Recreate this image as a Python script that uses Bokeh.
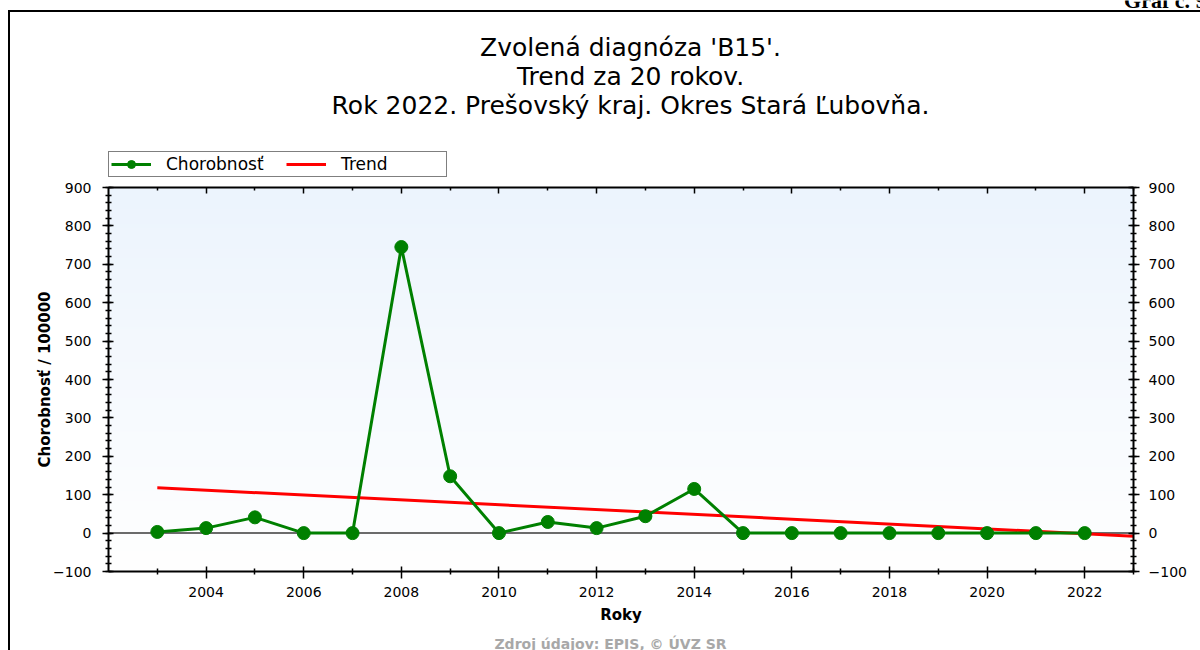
import numpy as np
from bokeh.plotting import figure
from bokeh.models import (LinearAxis, FixedTicker, Label, Legend, LegendItem, Range1d)
from bokeh.embed import file_html
from bokeh.resources import INLINE

# ---------------- data ----------------
years = [2003, 2004, 2005, 2006, 2007, 2008, 2009, 2010, 2011, 2012,
         2013, 2014, 2015, 2016, 2017, 2018, 2019, 2020, 2021, 2022]
morbidity = [3, 13, 41, 0, 0, 745, 148, 0, 29, 13,
             44, 115, 0, 0, 0, 0, 0, 0, 0, 0]
trend_years = [2003, 2023]
trend_values = [118, -8]

x_bounds = [2002, 2023]
y_bounds = [-100, 900]
x_major_ticks = [2004, 2006, 2008, 2010, 2012, 2014, 2016, 2018, 2020, 2022]
x_minor_ticks = [2003, 2005, 2007, 2009, 2011, 2013, 2015, 2017, 2019, 2021, 2023]
y_major_ticks = [-100, 0, 100, 200, 300, 400, 500, 600, 700, 800, 900]
y_minor_ticks = list(range(-100, 901, 20))

title_lines = ["Zvolená diagnóza 'B15'.",
               "Trend za 20 rokov.",
               "Rok 2022. Prešovský kraj. Okres Stará Ľubovňa."]
corner_text = "Graf č. 9"
source_text = "Zdroj údajov: EPIS, © ÚVZ SR"
series_label = "Chorobnosť"
trend_label = "Trend"
x_label = "Roky"
y_label = "Chorobnosť / 100000"

FONT = "DejaVu Sans"

# ---------------- layout (pixels of the page) ----------------
W, H = 1200, 650
PX_L, PX_R, PX_T, PX_B = 108, 1133, 187, 571      # plotting area
X0, X1 = x_bounds
Y0, Y1 = y_bounds
kx = (PX_R - PX_L) / (X1 - X0)
ky = (PX_B - PX_T) / (Y1 - Y0)
x_range = Range1d(X0 - PX_L / kx, X1 + (W - PX_R) / kx)
y_range = Range1d(Y0 - (H - PX_B) / ky, Y1 + PX_T / ky)

def sy(page_y):
    """page y (from top) -> screen units of the frame (from bottom)"""
    return H - page_y

p = figure(width=W, height=H, x_range=x_range, y_range=y_range,
           output_backend="svg", toolbar_location=None,
           min_border=0, x_axis_location=None, y_axis_location=None)
p.title.visible = False
p.background_fill_color = None
p.border_fill_color = None
p.outline_line_color = None
p.xgrid.visible = False
p.ygrid.visible = False
# left and top line of the surrounding box
p.styles = {"box-shadow": "inset 8px 10px 0 0 #ffffff, inset 10px 12px 0 0 #000000"}

# gradient background of the plotting area
n = 256
img = np.zeros((n, 1), dtype=np.uint32)
view = img.view(dtype=np.uint8).reshape((n, 1, 4))
top_c = np.array([236, 244, 253])
bot_c = np.array([255, 255, 255])
for i in range(n):
    t = i / (n - 1)
    c = bot_c + (top_c - bot_c) * t
    view[i, 0, 0] = int(c[0])
    view[i, 0, 1] = int(c[1])
    view[i, 0, 2] = int(c[2])
    view[i, 0, 3] = 255
bg = p.image_rgba(image=[img], x=X0, y=Y0, dw=X1 - X0, dh=Y1 - Y0)
bg.level = "image"

# zero line across the plotting area
p.line(x_bounds, [0, 0], line_color="#3a3a3a", line_width=1.5)

# series
trend_r = p.line(trend_years, trend_values, line_color="#ff0000", line_width=3)
line_r = p.line(years, morbidity, line_color="#008000", line_width=3)
pts_r = p.scatter(years, morbidity, marker="circle", size=13,
                  fill_color="#008000", line_color="#008000")

# axes
def style_axis(ax, tin, tout, mtin, mtout):
    ax.axis_line_color = "black"
    ax.axis_line_width = 2
    ax.major_tick_line_color = "black"
    ax.minor_tick_line_color = "black"
    ax.major_tick_line_width = 1.5
    ax.minor_tick_line_width = 1.5
    ax.major_tick_in = tin
    ax.major_tick_out = tout
    ax.minor_tick_in = mtin
    ax.minor_tick_out = mtout
    ax.major_label_text_font = FONT
    ax.major_label_text_font_size = "14px"
    ax.major_label_text_color = "black"
    ax.axis_label_text_font = FONT
    ax.axis_label_text_font_size = "15px"
    ax.axis_label_text_font_style = "bold"
    ax.axis_label_text_color = "black"

xt = FixedTicker(ticks=x_major_ticks, minor_ticks=x_minor_ticks)
yt = FixedTicker(ticks=y_major_ticks, minor_ticks=y_minor_ticks)

bottom = LinearAxis(ticker=xt, axis_label=x_label, fixed_location=Y0,
                    bounds=(X0, X1))
style_axis(bottom, 5, 7, 3, 3)
bottom.major_label_standoff = 8
bottom.axis_label_standoff = 6
p.add_layout(bottom, "below")

left = LinearAxis(ticker=yt, axis_label=y_label, fixed_location=X0,
                  bounds=(Y0, Y1))
style_axis(left, 5, 6, 3, 3)
left.major_label_standoff = 11
left.axis_label_standoff = -4
p.add_layout(left, "left")

right = LinearAxis(ticker=yt, fixed_location=X1, bounds=(Y0, Y1))
style_axis(right, 5, 6, 3, 3)
right.major_label_standoff = 9
p.add_layout(right, "right")

topax = LinearAxis(ticker=xt, fixed_location=Y1, bounds=(X0, X1))
style_axis(topax, 6, 0, 3, 0)
topax.major_label_overrides = {t: "" for t in x_major_ticks}
p.add_layout(topax, "above")

# legend (outside the plotting area, above it)
legend = Legend(items=[LegendItem(label=series_label, renderers=[line_r, pts_r]),
                       LegendItem(label=trend_label, renderers=[trend_r])],
                orientation="horizontal", location=(PX_L, sy(177)))
legend.margin = 0
legend.padding = 2
legend.spacing = 17
legend.glyph_width = 40
legend.glyph_height = 20
legend.label_height = 20
legend.label_width = 103
legend.label_standoff = 15
legend.label_text_font = FONT
legend.label_text_font_size = "17px"
legend.label_text_color = "black"
legend.border_line_color = "black"
legend.border_line_width = 1.2
legend.background_fill_color = "white"
legend.background_fill_alpha = 1
p.add_layout(legend, "center")

# titles (baselines corrected for the renderer's text offset)
for txt, base in zip(title_lines, [47, 76, 105]):
    p.add_layout(Label(x=630, y=sy(base), x_units="screen", y_units="screen",
                       text=txt, text_align="center", text_baseline="alphabetic",
                       text_font=FONT, text_font_size="25px", text_color="black"))

p.add_layout(Label(x=1206, y=sy(0), x_units="screen", y_units="screen",
                   text=corner_text, text_align="right", text_baseline="alphabetic",
                   text_font="Liberation Serif", text_font_size="22px",
                   text_font_style="bold", text_color="black"))

p.add_layout(Label(x=610, y=sy(643), x_units="screen", y_units="screen",
                   text=source_text, text_align="center", text_baseline="alphabetic",
                   text_font=FONT, text_font_size="14px", text_font_style="bold",
                   text_color="#a8a8a8"))

open("out.html", "w").write(file_html(p, INLINE))
